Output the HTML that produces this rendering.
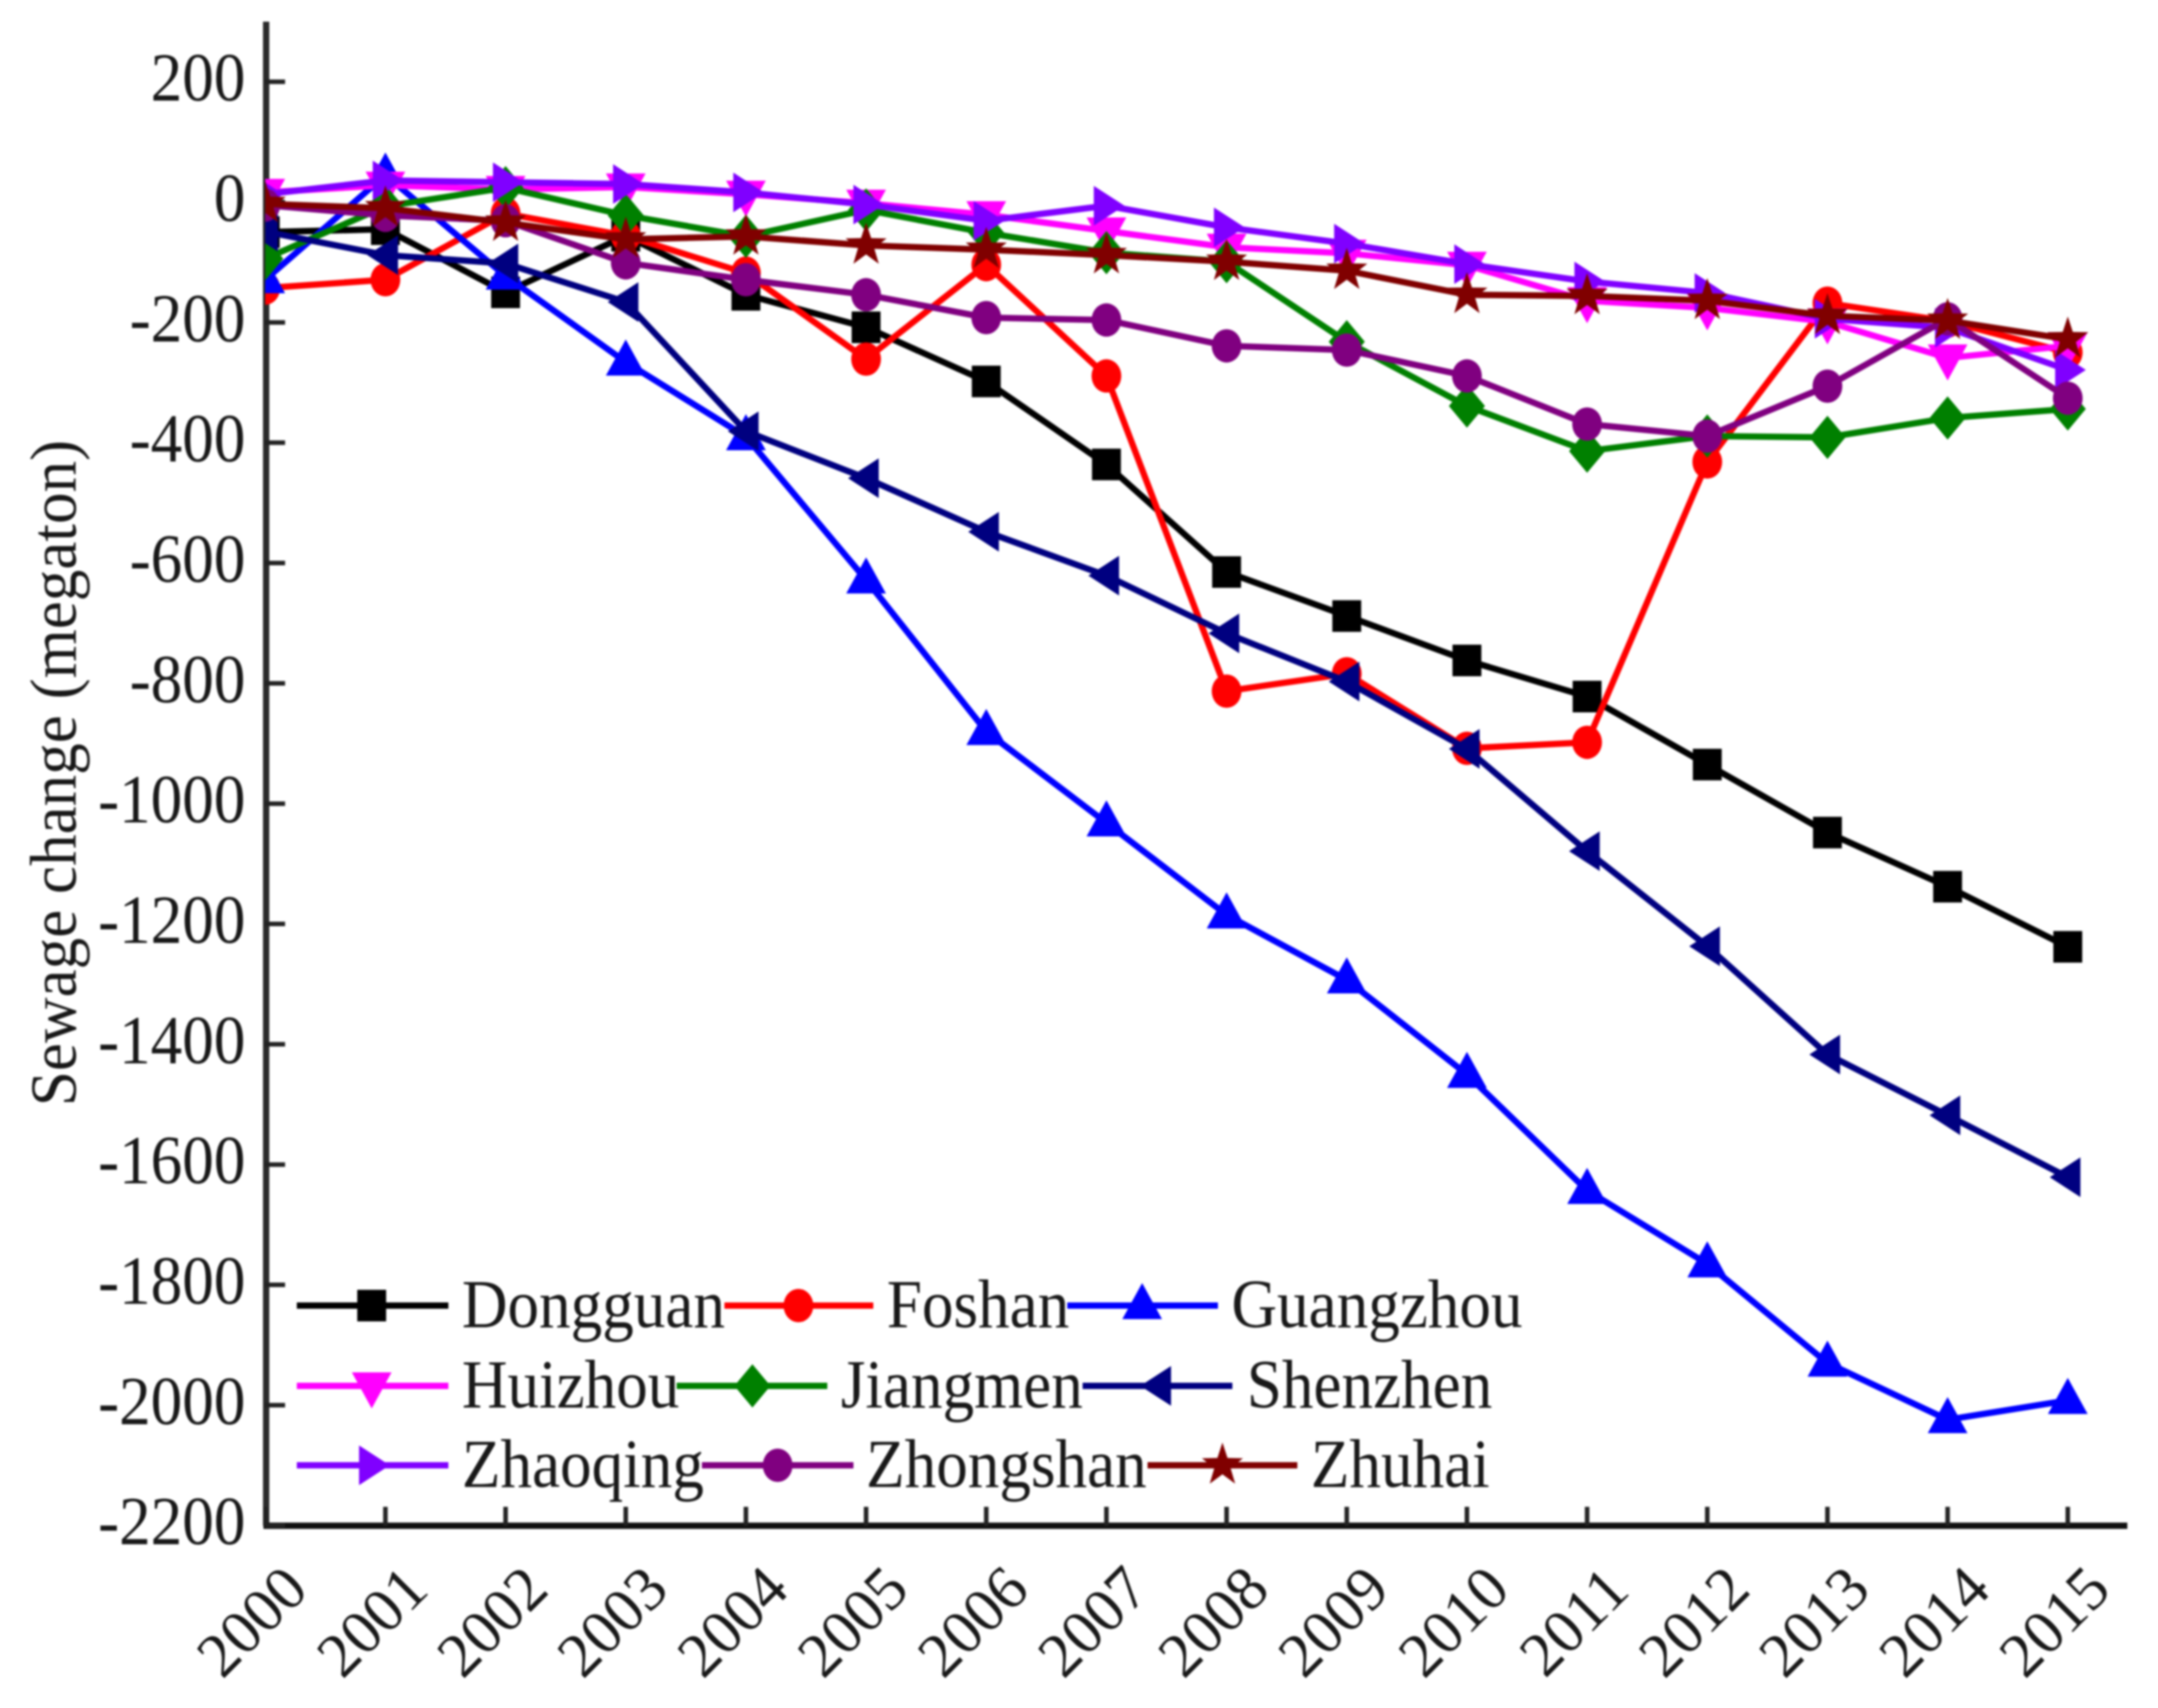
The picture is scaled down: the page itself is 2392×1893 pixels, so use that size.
<!DOCTYPE html>
<html lang="en">
<head>
<meta charset="utf-8">
<title>Sewage change by city, 2000-2015</title>
<style>
html,body{margin:0;padding:0;background:#fff;}
svg{display:block;filter:blur(1px);}
text{font-family:"Liberation Serif",serif;fill:#181818;}
</style>
</head>
<body>
<svg id="chart" xmlns="http://www.w3.org/2000/svg" width="2392" height="1893" viewBox="0 0 2392 1893">
  <defs>
    <clipPath id="plot-clip"><rect x="294" y="0" width="2098" height="1893"/></clipPath>
  </defs>
  <rect x="0" y="0" width="2392" height="1893" fill="#fff"/>
  <g id="axes"></g>
  <g id="series" clip-path="url(#plot-clip)"></g>
  <text transform="translate(84 1226) rotate(-90) scale(1 1.05)" font-size="70">Sewage change (megaton)</text>
  <g id="legend">
    <g>
      <line x1="329" y1="1447" x2="497" y2="1447" stroke="#000" stroke-width="7"/>
      <path class="legend-marker" data-shape="square" data-x="412" data-y="1447" fill="#000"/>
      <text transform="translate(512 1471) scale(1 1.09)" font-size="70">Dongguan</text>
    </g>
    <g>
      <line x1="803" y1="1447" x2="968" y2="1447" stroke="#f00" stroke-width="7"/>
      <path class="legend-marker" data-shape="circle" data-x="885" data-y="1447" fill="#f00"/>
      <text transform="translate(983 1471) scale(1 1.09)" font-size="70">Foshan</text>
    </g>
    <g>
      <line x1="1183" y1="1447" x2="1350" y2="1447" stroke="#00f" stroke-width="7"/>
      <path class="legend-marker" data-shape="triUp" data-x="1266" data-y="1447" fill="#00f"/>
      <text transform="translate(1365 1471) scale(1 1.09)" font-size="70">Guangzhou</text>
    </g>
    <g>
      <line x1="329" y1="1536" x2="497" y2="1536" stroke="#f0f" stroke-width="7"/>
      <path class="legend-marker" data-shape="triDown" data-x="412" data-y="1536" fill="#f0f"/>
      <text transform="translate(512 1560) scale(1 1.09)" font-size="70">Huizhou</text>
    </g>
    <g>
      <line x1="750" y1="1536" x2="917" y2="1536" stroke="#008000" stroke-width="7"/>
      <path class="legend-marker" data-shape="diamond" data-x="834" data-y="1536" fill="#008000"/>
      <text transform="translate(932 1560) scale(1 1.09)" font-size="70">Jiangmen</text>
    </g>
    <g>
      <line x1="1200" y1="1536" x2="1366" y2="1536" stroke="#000080" stroke-width="7"/>
      <path class="legend-marker" data-shape="triLeft" data-x="1284" data-y="1536" fill="#000080"/>
      <text transform="translate(1382 1560) scale(1 1.09)" font-size="70">Shenzhen</text>
    </g>
    <g>
      <line x1="329" y1="1624" x2="497" y2="1624" stroke="#8000ff" stroke-width="7"/>
      <path class="legend-marker" data-shape="triRight" data-x="412" data-y="1624" fill="#8000ff"/>
      <text transform="translate(512 1648) scale(1 1.09)" font-size="70">Zhaoqing</text>
    </g>
    <g>
      <line x1="778" y1="1624" x2="946" y2="1624" stroke="#800080" stroke-width="7"/>
      <path class="legend-marker" data-shape="circle" data-x="862" data-y="1624" fill="#800080"/>
      <text transform="translate(960 1648) scale(1 1.09)" font-size="70">Zhongshan</text>
    </g>
    <g>
      <line x1="1272" y1="1624" x2="1438" y2="1624" stroke="#800000" stroke-width="7"/>
      <path class="legend-marker" data-shape="star" data-x="1355" data-y="1624" fill="#800000"/>
      <text transform="translate(1453 1648) scale(1 1.09)" font-size="70">Zhuhai</text>
    </g>
  </g>
</svg>
<script>
const years = [2000,2001,2002,2003,2004,2005,2006,2007,2008,2009,2010,2011,2012,2013,2014,2015];
const yTickValues = [200,0,-200,-400,-600,-800,-1000,-1200,-1400,-1600,-1800,-2000,-2200];

const dongguan  = [-50,-45,-150,-56,-154,-208,-298,-436,-615,-688,-762,-822,-935,-1048,-1138,-1238];
const foshan    = [-143,-129,-19,-56,-118,-261,-104,-289,-813,-784,-908,-898,-432,-168,-198,-250];
const guangzhou = [-129,45,-123,-266,-390,-628,-880,-1032,-1185,-1293,-1450,-1643,-1765,-1930,-2024,-1992];
const huizhou   = [16,28,21,25,13,-2,-21,-48,-75,-85,-105,-164,-176,-199,-259,-239];
const jiangmen  = [-94,-7,24,-22,-57,-13,-51,-84,-99,-232,-339,-414,-389,-391,-359,-344];
const shenzhen  = [-49,-88,-102,-166,-381,-459,-548,-621,-717,-797,-909,-1079,-1237,-1417,-1518,-1621];
const zhaoqing  = [13,36,33,30,16,-4,-31,-6,-42,-69,-103,-132,-151,-194,-209,-279];
const zhongshan = [-5,-22,-31,-101,-129,-154,-192,-196,-239,-246,-289,-369,-389,-306,-194,-326];
const zhuhai    = [-3,-10,-34,-62,-57,-72,-79,-88,-99,-114,-154,-156,-164,-189,-197,-228];

const seriesList = [
  ['dongguan', dongguan, '#000', 'square'],
  ['foshan', foshan, '#f00', 'circle'],
  ['guangzhou', guangzhou, '#00f', 'triUp'],
  ['huizhou', huizhou, '#f0f', 'triDown'],
  ['jiangmen', jiangmen, '#008000', 'diamond'],
  ['shenzhen', shenzhen, '#000080', 'triLeft'],
  ['zhaoqing', zhaoqing, '#8000ff', 'triRight'],
  ['zhongshan', zhongshan, '#800080', 'circle'],
  ['zhuhai', zhuhai, '#800000', 'star']
];

const NS = 'http://www.w3.org/2000/svg';
function xScale(year){ return 294 + (year - 2000) * 133.2; }
function yScale(v){ return 224 - v * 0.6667; }

function make(tag, attrs, parent){
  const el = document.createElementNS(NS, tag);
  for (const k in attrs) el.setAttribute(k, attrs[k]);
  parent.appendChild(el);
  return el;
}

function poly(pts, x, y){
  return 'M' + pts.map(function(p){ return (x + p[0]).toFixed(1) + ' ' + (y + p[1]).toFixed(1); }).join('L') + 'Z';
}
function markerPath(shape, x, y){
  if (shape === 'square') return poly([[-16,-17.5],[16,-17.5],[16,17.5],[-16,17.5]], x, y);
  if (shape === 'circle') return 'M' + (x-16.5) + ' ' + y + 'a16.5 18.5 0 1 0 33 0a16.5 18.5 0 1 0 -33 0Z';
  if (shape === 'triUp') return poly([[0,-25],[22,15],[-22,15]], x, y);
  if (shape === 'triDown') return poly([[0,25],[22,-15],[-22,-15]], x, y);
  if (shape === 'diamond') return poly([[0,-24],[20,0],[0,24],[-20,0]], x, y);
  if (shape === 'triLeft') return poly([[-20,0],[14,-22],[14,22]], x, y);
  if (shape === 'triRight') return poly([[20,0],[-14,-22],[-14,22]], x, y);
  const pts = [];
  for (let i = 0; i < 10; i++){
    const r = i % 2 ? 9.5 : 24;
    const a = -Math.PI / 2 + i * Math.PI / 5;
    pts.push([r * Math.cos(a), r * Math.sin(a) * 1.05]);
  }
  return poly(pts, x, y);
}

const axes = document.getElementById('axes');
const yAxisLine = make('line', {x1:295, y1:24, x2:295, y2:1691, stroke:'#2a2a2a', 'stroke-width':7}, axes);


const xAxisLine = make('line', {x1:292, y1:1691, x2:2358, y2:1691, stroke:'#111', 'stroke-width':7}, axes);



yTickValues.forEach(function(v){
  const y = yScale(v);
  const tick = make('line', {x1:294, y1:y, x2:316, y2:y, stroke:'#222', 'stroke-width':5}, axes);
  
  
  const label = make('text', {transform:'translate(272 ' + (y + 21) + ') scale(1 1.09)', 'text-anchor':'end', 'font-size':70}, axes);
  label.textContent = String(v);
  
  
});

years.forEach(function(year){
  const x = xScale(year);
  const tick = make('line', {x1:x, y1:1691, x2:x, y2:1670, stroke:'#222', 'stroke-width':5}, axes);
  
  
  const label = make('text', {transform:'translate(' + (x - 15) + ' 1797) rotate(-45)', 'text-anchor':'middle', y:23, 'font-size':69}, axes);
  label.textContent = String(year);
  
  
});

const seriesLayer = document.getElementById('series');
seriesList.forEach(function(s){
  const group = make('g', {}, seriesLayer);
  
  
  const d = s[1].map(function(v, i){ return (i ? 'L' : 'M') + xScale(years[i]).toFixed(1) + ' ' + yScale(v).toFixed(1); }).join('');
  const line = make('path', {d:d, fill:'none', stroke:s[2], 'stroke-width':7, 'stroke-linejoin':'round'}, group);
  
  
  s[1].forEach(function(v, i){
    const point = make('path', {d:markerPath(s[3], xScale(years[i]), yScale(v)), fill:s[2]}, group);
    
    
  });
});

document.querySelectorAll('.legend-marker').forEach(function(el){
  el.setAttribute('d', markerPath(el.getAttribute('data-shape'), +el.getAttribute('data-x'), +el.getAttribute('data-y')));
  
  
});
</script>
</body>
</html>
